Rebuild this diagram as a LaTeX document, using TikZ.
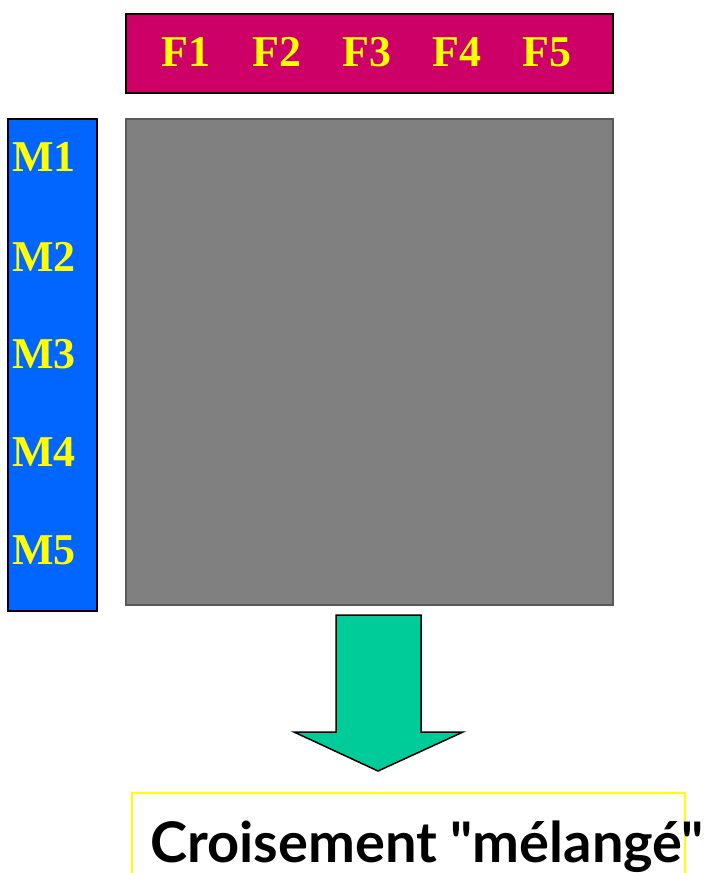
\documentclass[tikz,border=0pt]{standalone}
\usepackage{fontspec}
\setmainfont{Liberation Serif}
\newfontfamily\captionfont{Lato}
\definecolor{barmagenta}{HTML}{CC0066}
\definecolor{barblue}{HTML}{0066FF}
\definecolor{gridgrey}{HTML}{808080}
\definecolor{arrowgreen}{HTML}{00CC99}
\definecolor{labelyellow}{HTML}{FFFF00}
\tikzset{
  panel/.style={draw=black, line width=2pt},
  lbl/.style={text=labelyellow, font=\fontsize{44}{44}\selectfont\bfseries, inner sep=0pt},
}
\begin{document}
\begin{tikzpicture}[x=1pt,y=-1pt]
\useasboundingbox (0,0) rectangle (704,873);
% column header bar
\node[panel, fill=barmagenta, minimum width=487pt, minimum height=79pt, inner sep=0pt, anchor=north west] (top) at (125,13) {};
\foreach \i/\xx in {1/186,2/277,3/367,4/457,5/547}
  \node[lbl] (F\i) at (\xx,52) {F\i};
% row header bar
\node[panel, fill=barblue, minimum width=89pt, minimum height=492pt, inner sep=0pt, anchor=north west] (left) at (7,118) {};
\foreach \i/\yy in {1/157,2/257,3/354,4/452,5/550}
  \node[lbl, anchor=west] (M\i) at (12,\yy) {M\i};
% crossing grid
\node[draw=black!65, line width=2pt, fill=gridgrey, minimum width=487pt, minimum height=486pt, inner sep=0pt, anchor=north west] (grid) at (125,118) {};
% block arrow
\draw[fill=arrowgreen, line width=1.5pt, line join=miter]
  (336,615) -- (421,615) -- (421,732) -- (463,732) -- (378,771) -- (294,732) -- (336,732) -- cycle;
% caption box
\draw[labelyellow, line width=1.5pt] (132,880) -- (132,793) -- (685,793) -- (685,880);
\node[anchor=base west, inner sep=0pt, font=\captionfont\fontsize{56}{56}\selectfont\bfseries] (caption) at (150,862) {Croisement "mélangé"};
\end{tikzpicture}
\end{document}
